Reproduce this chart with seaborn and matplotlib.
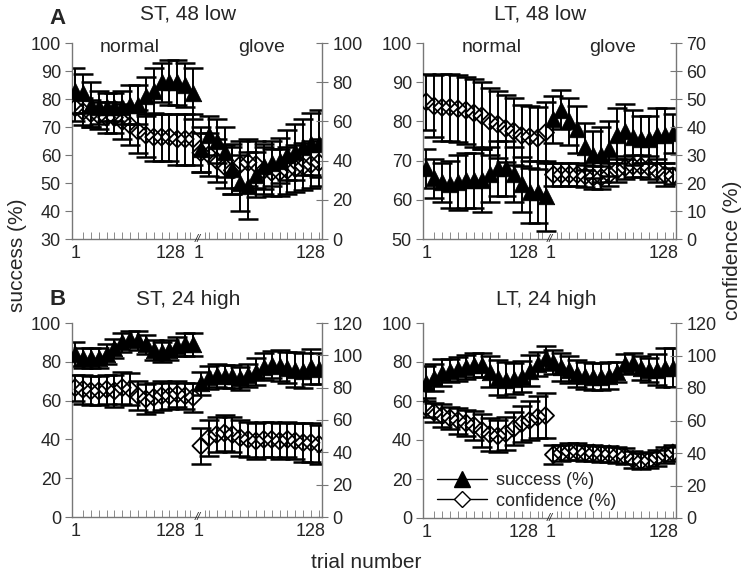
import numpy as np
import matplotlib
matplotlib.use("Agg")
import matplotlib.pyplot as plt
import seaborn as sns
from matplotlib.lines import Line2D

sns.set_style("white")
plt.rcParams['font.family'] = ['Liberation Sans', 'DejaVu Sans']

# 16 blocks per condition: first 16 = normal (trials 1-128), last 16 = glove (trials 1-128)
st48_succ = [83, 82, 78, 77, 77, 77, 77, 78, 78, 81, 83, 86, 86, 86, 85, 82,
             62, 67, 65, 61, 55, 50, 49, 53, 56, 57, 58, 60, 61, 63, 64, 64]
st48_succ_err = [8, 7, 8, 6, 5, 5, 6, 7, 7, 7, 8, 7, 8, 8, 8, 9,
                 8, 7, 8, 9, 9, 10, 12, 8, 8, 8, 8, 9, 10, 10, 11, 12]
st48_conf = [67, 65, 64, 63, 62, 62, 60, 58, 55, 53, 52, 52, 52, 51, 51, 51,
             44, 43, 40, 37, 35, 38, 39, 38, 35, 34, 34, 35, 36, 37, 38, 39]
st48_conf_err = [7, 7, 7, 7, 8, 8, 9, 10, 11, 11, 12, 12, 12, 13, 13, 13,
                 10, 11, 11, 11, 12, 12, 12, 12, 12, 12, 12, 12, 12, 12, 12, 12]

lt48_succ = [68, 65.5, 64.5, 64, 64.5, 65, 65, 65, 66.5, 68, 68, 66.5, 64, 62, 62, 61,
             80.5, 83, 80, 78, 73.5, 71.5, 71.5, 73, 76.5, 77.5, 76, 75.5, 75.5, 76.5, 76.5, 77]
lt48_succ_err = [5, 5, 5, 6, 7, 7, 7, 8, 7, 7, 7, 7, 7, 8, 8, 9,
                 6, 5, 6, 6, 6, 6, 7, 7, 7, 7, 7, 6, 6, 7, 7, 5]
lt48_conf = [49, 47.5, 47, 47, 46.5, 46, 45, 44, 42, 41, 39.5, 38.5, 37, 36.5, 36, 38,
             23, 23, 23, 23, 22.5, 22, 22, 23, 24.5, 25.5, 26, 26, 25.5, 24.5, 23, 22.5]
lt48_conf_err = [10, 11, 12, 12, 12, 12, 12, 12, 12, 12, 12, 12, 11, 11, 11, 11,
                 4, 4, 4, 4, 4, 4, 4, 4, 4, 4, 4, 4, 4, 4, 4, 3]

st24_succ = [84, 82, 82, 82, 84, 87, 90, 92, 91, 89, 86, 85, 86, 88, 89, 89,
             69, 72, 73, 72.5, 72.5, 71.5, 73, 75, 77.5, 78.5, 78, 77, 76, 75.5, 77.5, 76.5]
st24_succ_err = [6, 5, 5, 5, 5, 5, 5, 4, 5, 5, 5, 5, 5, 5, 6, 6,
                 6, 6, 6, 6, 6, 6, 6, 7, 7, 7, 8, 8, 9, 9, 9, 8]
st24_conf = [80, 79, 78, 78, 79, 78, 80, 79, 75, 73, 74, 75, 75, 76, 75, 74,
             44, 49, 51, 52, 51, 49, 48, 47, 48, 48, 47, 48, 47, 46, 46, 45]
st24_conf_err = [8, 9, 9, 9, 9, 10, 10, 10, 9, 9, 9, 9, 8, 8, 8, 9,
                 11, 11, 11, 11, 11, 11, 11, 11, 11, 11, 11, 11, 11, 12, 12, 12]

lt24_succ = [69, 72, 74.5, 75.5, 76.5, 77.5, 78.5, 78.5, 75, 72, 71, 71.5, 72.5, 75.5, 79, 82,
             80, 77.5, 76, 74, 73, 72.5, 72.5, 73, 75, 79, 79.5, 77, 76, 76, 77, 77]
lt24_succ_err = [9, 7, 7, 6, 6, 6, 6, 6, 8, 9, 9, 8, 8, 8, 6, 6,
                 6, 7, 7, 7, 7, 7, 7, 7, 5, 5, 5, 6, 6, 8, 10, 10]
lt24_conf = [68, 65, 63, 61.5, 60, 58.5, 57, 54, 51.5, 50.5, 52, 55, 58, 60, 62, 63,
             39, 40, 41, 41, 40, 40, 39.5, 39.5, 39, 38, 36, 35, 35.5, 37, 39, 40]
lt24_conf_err = [6, 6, 7, 7, 8, 8, 9, 10, 10, 10, 10, 10, 11, 12, 13, 14,
                 6, 5, 5, 5, 5, 5, 5, 5, 5, 5, 5, 5, 5, 5, 5, 5]

x_tick_labels = ["1", "128", "1", "128"]

x = np.arange(32)
AXCOL = "#777777"


def draw_panel(rect, succ, succ_err, conf, conf_err, left_ticks, right_ticks, segments=False):
    ax = fig.add_axes(rect)
    ax2 = ax.twinx()
    # error bars first, then markers
    ax.errorbar(x, succ, yerr=succ_err, fmt="none", ecolor="black",
                elinewidth=1.4, capsize=7, capthick=1.8, zorder=2)
    sns.scatterplot(x=x, y=succ, ax=ax, marker="^", s=140, color="black",
                    edgecolor="black", linewidth=0.6, zorder=3)
    ax2.errorbar(x, conf, yerr=conf_err, fmt="none", ecolor="black",
                 elinewidth=1.4, capsize=7, capthick=1.8, zorder=2)
    ax2.scatter(x, conf, marker="D", s=75, facecolors="none",
                edgecolors="black", linewidths=1.3, zorder=3)

    ax.set_xlim(-0.4, 31.4)
    ax.set_ylim(left_ticks[0], left_ticks[-1])
    ax.set_yticks(left_ticks)
    ax2.set_ylim(right_ticks[0], right_ticks[-1])
    ax2.set_yticks(right_ticks)

    ax.set_xticks([0, 12.2, 15.7, 29.9])
    ax.set_xticklabels(x_tick_labels)
    ax.set_xticks([i for i in range(32) if i not in (15, 16)] + [14.6, 16.5], minor=True)
    ax.tick_params(axis="x", which="major", length=0, labelsize=13, pad=4)
    ax.tick_params(axis="x", which="minor", direction="in", length=5, color=AXCOL, bottom=True)
    ax.tick_params(axis="y", direction="out", length=5, color=AXCOL, labelsize=13, pad=3, left=True)
    ax2.tick_params(axis="y", direction="inout", length=9, color=AXCOL, labelsize=13, pad=3, right=True)

    for s in ["top", "right"]:
        ax.spines[s].set_visible(False)
    for s in ["top", "left", "bottom"]:
        ax2.spines[s].set_visible(False)
    for sp in [ax.spines["left"], ax.spines["bottom"], ax2.spines["right"]]:
        sp.set_color(AXCOL)
        sp.set_linewidth(1.0)

    ax.text(15.55, left_ticks[0], "//", ha="center", va="center", fontsize=8,
            style="italic", clip_on=False, zorder=5)

    if segments:
        ax.text(segments[0], 0.975, "normal", transform=ax.transAxes, ha="center",
                va="center", fontsize=14)
        ax.text(segments[1], 0.975, "glove", transform=ax.transAxes, ha="center",
                va="center", fontsize=14)
    return ax, ax2


W, H = 747, 576
fig = plt.figure(figsize=(W / 100, H / 100), dpi=100)


def rect(x0, x1, y0, y1):
    return [x0 / W, 1 - y1 / H, (x1 - x0) / W, (y1 - y0) / H]


draw_panel(rect(72, 322, 43, 239), st48_succ, st48_succ_err, st48_conf, st48_conf_err,
           np.arange(30, 101, 10), np.arange(0, 101, 20), segments=(0.232, 0.76))
draw_panel(rect(423, 676, 43, 239), lt48_succ, lt48_succ_err, lt48_conf, lt48_conf_err,
           np.arange(50, 101, 10), np.arange(0, 71, 10), segments=(0.27, 0.75))
draw_panel(rect(72, 322, 323, 517), st24_succ, st24_succ_err, st24_conf, st24_conf_err,
           np.arange(0, 101, 20), np.arange(0, 121, 20))
ax_d, ax_d2 = draw_panel(rect(423, 676, 323, 518), lt24_succ, lt24_succ_err, lt24_conf, lt24_conf_err,
                         np.arange(0, 101, 20), np.arange(0, 121, 20))

handles = [
    Line2D([], [], color="black", lw=1, marker="^", markersize=11, markerfacecolor="black"),
    Line2D([], [], color="black", lw=1, marker="D", markersize=8, markerfacecolor="white"),
]
ax_d2.legend(handles, ["success (%)", "confidence (%)"], loc="lower left",
             bbox_to_anchor=(-0.01, -0.04), frameon=False, fontsize=13,
             handlelength=2.8, handletextpad=0.5, labelspacing=0.2)

# titles and panel letters
fig.text(188 / W, 1 - 20 / H, "ST, 48 low", ha="center", va="baseline", fontsize=15)
fig.text(540 / W, 1 - 20 / H, "LT, 48 low", ha="center", va="baseline", fontsize=15)
fig.text(188 / W, 1 - 305 / H, "ST, 24 high", ha="center", va="baseline", fontsize=15)
fig.text(546 / W, 1 - 305 / H, "LT, 24 high", ha="center", va="baseline", fontsize=15)
fig.text(57 / W, 1 - 24 / H, "A", ha="center", va="baseline", fontsize=16, fontweight="bold")
fig.text(58 / W, 1 - 305 / H, "B", ha="center", va="baseline", fontsize=16, fontweight="bold")

fig.text(18 / W, 1 - 255 / H, "success (%)", rotation=90, ha="center", va="center", fontsize=15)
fig.text(733 / W, 1 - 250 / H, "confidence (%)", rotation=90, ha="center", va="center", fontsize=15)
fig.text(366 / W, 1 - 563 / H, "trial number", ha="center", va="center", fontsize=15)

fig.savefig("out.png", dpi=100)
